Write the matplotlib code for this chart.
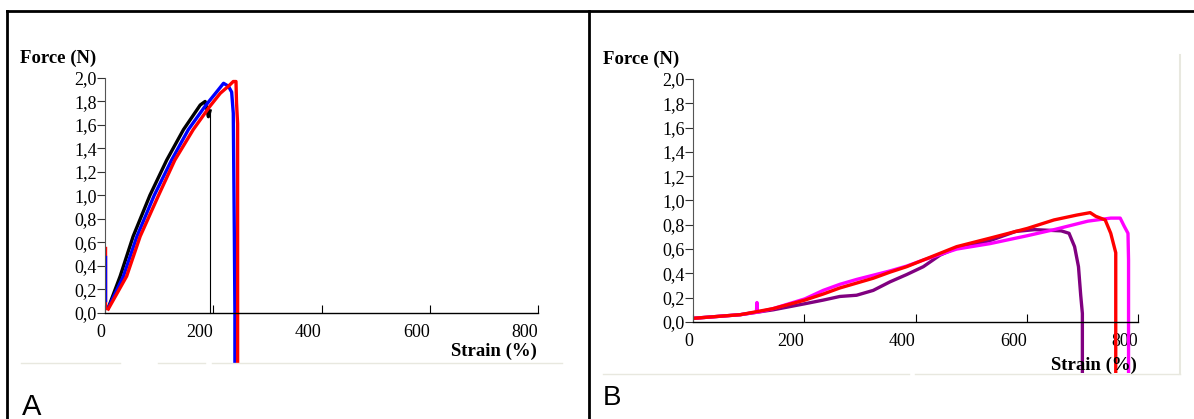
import matplotlib
matplotlib.use('Agg')
import matplotlib.pyplot as plt
from matplotlib.lines import Line2D

plt.rcParams['font.family'] = ['Liberation Serif', 'DejaVu Serif']

# --- panel A: force (N) vs strain (%) ---
a_black_strain = [6, 28, 52, 83, 114, 145, 176, 185, 188, 191, 194, 194]
a_black_force = [0.04, 0.31, 0.65, 1.00, 1.30, 1.56, 1.77, 1.80, 1.74, 1.67, 1.72, 0.0]

a_blue_strain = [6, 34, 59, 91, 123, 154, 185, 206, 219, 228, 234, 237, 239, 240, 240]
a_blue_force = [0.04, 0.31, 0.65, 1.00, 1.30, 1.56, 1.76, 1.88, 1.955, 1.93, 1.88, 1.70, 0.65, 0.0, -0.45]

a_red_strain = [6, 40, 65, 99, 129, 163, 194, 213, 228, 237, 242, 243, 245, 245, 245]
a_red_force = [0.03, 0.31, 0.65, 1.00, 1.30, 1.56, 1.76, 1.87, 1.93, 1.97, 1.97, 1.79, 1.61, 0.0, -0.45]

a_red_spike = ([2, 2], [0.03, 0.56])
a_blue_spike = ([2, 2], [0.10, 0.48])

# --- panel B ---
b_red_strain = [0, 85, 144, 201, 234, 264, 294, 324, 354, 384, 414, 444, 474, 534,
                601, 649, 690, 714, 724, 741, 751, 760, 760]
b_red_force = [0.03, 0.06, 0.11, 0.18, 0.23, 0.28, 0.32, 0.36, 0.41, 0.455, 0.51, 0.565, 0.62, 0.69,
               0.77, 0.84, 0.88, 0.90, 0.87, 0.84, 0.73, 0.57, -0.45]

b_mag_strain = [0, 85, 114, 115, 116, 144, 201, 234, 264, 294, 324, 354, 384, 414, 444, 474, 534,
                601, 649, 710, 751, 768, 775, 782, 783, 783]
b_mag_force = [0.03, 0.06, 0.08, 0.16, 0.08, 0.11, 0.19, 0.26, 0.31, 0.35, 0.385, 0.42, 0.46, 0.51, 0.555, 0.60, 0.645,
               0.71, 0.76, 0.83, 0.855, 0.855, 0.79, 0.73, 0.51, -0.45]

b_purple_strain = [0, 85, 144, 201, 234, 264, 294, 324, 354, 384, 414, 444, 474, 534,
                   580, 614, 662, 676, 686, 693, 697, 700, 700]
b_purple_force = [0.03, 0.06, 0.10, 0.15, 0.18, 0.21, 0.22, 0.26, 0.33, 0.39, 0.455, 0.55, 0.61, 0.67,
                  0.745, 0.76, 0.75, 0.73, 0.62, 0.455, 0.22, 0.07, -0.45]

x_ticks = [0, 200, 400, 600, 800]
y_ticks = [0.0, 0.2, 0.4, 0.6, 0.8, 1.0, 1.2, 1.4, 1.6, 1.8, 2.0]

W, H = 1194.0, 419.0
fig = plt.figure(figsize=(W / 100, H / 100), dpi=100)


def px_axes(left, right, top, bottom):
    return fig.add_axes([left / W, 1 - bottom / H, (right - left) / W, (bottom - top) / H])


def fig_line(x0, y0, x1, y1, **kw):
    fig.add_artist(Line2D([x0 / W, x1 / W], [1 - y0 / H, 1 - y1 / H],
                          transform=fig.transFigure, **kw))


def style(ax, ymin):
    ax.set_xlim(0, 800)
    ax.set_ylim(ymin, 2.0)
    for s in ['top', 'right']:
        ax.spines[s].set_visible(False)
    ax.spines['bottom'].set_position(('data', 0))
    ax.spines['bottom'].set_linewidth(1.0)
    ax.spines['left'].set_color('#555555')
    ax.spines['left'].set_bounds(0, 2.0)
    ax.set_xticks(x_ticks)
    ax.set_xticklabels([str(v) for v in x_ticks], ha='right')
    ax.set_yticks(y_ticks)
    ax.set_yticklabels([('%.1f' % v).replace('.', ',') for v in y_ticks])
    ax.tick_params(axis='x', direction='in', length=6, width=0.8, pad=8, labelsize=13)
    ax.tick_params(axis='y', direction='out', length=6, width=0.8, pad=0, labelsize=13,
                   color='#333333')
    ax.patch.set_alpha(0)


lw = 2.4

# panel A
axA = px_axes(105, 538, 78, 363)
style(axA, -0.43)
axA.plot(a_black_strain[:-1], a_black_force[:-1], color='black', lw=lw)
axA.plot(a_black_strain[-2:], a_black_force[-2:], color='black', lw=0.8)
axA.plot(a_blue_strain, a_blue_force, color='#0000ff', lw=lw)
axA.plot(a_red_strain, a_red_force, color='#ff0000', lw=lw)
axA.plot(*a_red_spike, color='#ff0000', lw=1.0)
axA.plot(*a_blue_spike, color='#0000ff', lw=1.0)

# panel B
axB = px_axes(693, 1138, 79, 373)
style(axB, -0.42)
axB.plot(b_purple_strain, b_purple_force, color='#800080', lw=lw)
axB.plot(b_mag_strain, b_mag_force, color='#ff00ff', lw=lw)
axB.plot(b_red_strain, b_red_force, color='#ff0000', lw=lw)

# axis titles
fig.text(20 / W, 1 - 58 / H, 'Force (N)', fontsize=13.5, fontweight='bold', va='center', ha='left')
fig.text(537 / W, 1 - 351 / H, 'Strain (%)', fontsize=13.5, fontweight='bold', va='center', ha='right')
fig.text(603 / W, 1 - 59 / H, 'Force (N)', fontsize=13.5, fontweight='bold', va='center', ha='left')
fig.text(1137 / W, 1 - 365 / H, 'Strain (%)', fontsize=13.5, fontweight='bold', va='center', ha='right')

# panel letters
fig.text(22 / W, 1 - 415 / H, 'A', fontsize=21, family='Liberation Sans', va='baseline')
fig.text(603 / W, 1 - 405 / H, 'B', fontsize=20, family='Liberation Sans', va='baseline')

# table frame
fig_line(7, 11, 1194, 11, color='black', lw=2)
fig_line(7, 11, 7, 419, color='black', lw=2)
fig_line(589, 11, 589, 419, color='black', lw=2)

# faint picture edges
edge = '#e8e8df'
fig_line(21, 363, 120, 363, color=edge, lw=1)
fig_line(158, 363, 205, 363, color=edge, lw=1)
fig_line(212, 363, 562, 363, color=edge, lw=1)
fig_line(603, 374, 909, 374, color=edge, lw=1)
fig_line(915, 374, 1180, 374, color=edge, lw=1)
fig_line(1180, 55, 1180, 374, color=edge, lw=1.5)

fig.savefig('out.png', dpi=100)
